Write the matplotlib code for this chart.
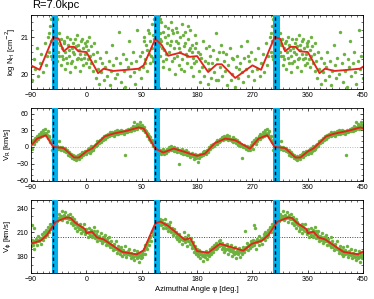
import matplotlib
matplotlib.use("Agg")
import matplotlib.pyplot as plt
from matplotlib.ticker import MultipleLocator
import numpy as np

plt.rcParams['font.family'] = ['Liberation Sans', 'DejaVu Sans']

# spiral arm positions (deg)
arm_phi = [-55, 112, 306]
band_lo = [-56, 110, 304]
band_hi = [-46, 120, 314]

# ---- log N_H panel (one period, 0..360) ----
nh_line_phi = [0, 6, 19, 28, 44, 65, 85, 93, 112, 122, 133, 152, 168, 180, 198, 212, 220,
               242, 255, 270, 284, 306, 315, 323, 332, 340, 347, 360]
nh_line = [20.6, 20.42, 20.03, 20.15, 20.09, 20.12, 20.15, 20.24, 20.95, 20.8, 20.5, 20.58,
           20.47, 20.49, 20.06, 20.27, 20.27, 19.9, 20.06, 20.24, 20.12, 21.0, 20.96, 20.62,
           20.74, 20.74, 20.62, 20.6]
nh_pts = [(1,20.9),(2,20.4),(3,20.65),(4,20.2),(5,21.0),(6,20.5),(7,20.75),(8,20.3),(10,20.55),(11,20.1),
          (12,20.85),(14,20.35),(15,19.9),(17,20.6),(19,20.15),(21,19.75),(22,20.45),(24,20.05),(26,20.3),(28,19.85),
          (30,20.2),(32,20.6),(34,19.95),(36,20.35),(38,19.7),(40,20.1),(42,20.8),(44,20.25),(46,19.9),(48,20.45),
          (50,20.0),(53,21.15),(55,20.3),(57,19.8),(59,20.55),(61,20.1),(63,19.65),(65,20.4),(67,20.2),(69,20.9),
          (71,19.95),(73,20.3),(75,20.6),(77,20.05),(79,19.75),(81,20.35),(83,21.2),(85,20.15),(87,20.5),(89,19.9),
          (91,20.6),(92,20.2),(94,21.0),(95,20.4),(97,20.8),(98,20.1),(100,21.2),(101,20.55),(103,20.9),(104,20.3),
          (106,21.35),(107,20.7),(108,21.05),(109,20.45),(110,21.5),(111,20.85),(112,21.2),(113,20.6),(114,21.45),(115,20.95),
          (116,20.3),(117,21.3),(118,20.75),(119,21.1),(120,20.5),(121,21.4),(122,20.9),(124,20.2),(125,21.15),(126,20.65),
          (128,21.3),(129,20.4),(131,20.85),(132,21.05),(134,20.15),(135,20.6),(137,21.4),(138,20.9),(140,20.35),(141,21.1),
          (143,20.7),(144,20.0),(146,21.25),(147,20.5),(149,20.85),(150,20.25),(152,21.0),(153,20.6),(155,21.35),(156,20.4),
          (158,20.75),(159,20.1),(161,21.15),(162,20.55),(164,20.3),(165,20.95),(167,20.65),(168,21.2),(170,20.2),(171,20.8),
          (173,20.45),(174,19.95),(176,20.7),(177,21.05),(179,20.35),
          (181,20.6),(183,20.1),(185,19.8),(186,20.45),(188,20.2),(190,20.9),(192,19.95),(193,20.35),(195,20.7),(197,19.75),
          (199,20.15),(201,20.5),(203,19.9),(205,20.3),(206,20.65),(208,20.05),(210,21.1),(212,20.4),(214,19.85),(215,20.6),
          (217,20.2),(219,20.8),(221,19.95),(223,20.35),(225,20.1),(227,20.55),(229,19.7),(231,20.25),(233,20.7),(235,19.85),
          (237,20.0),(239,20.4),(241,19.65),(243,20.2),(245,20.5),(247,19.9),(249,20.3),(251,20.75),(253,20.05),(255,19.8),
          (257,20.45),(259,20.15),(261,20.9),(263,19.95),(265,20.35),(267,20.6),(269,20.1),
          (272,19.85),(274,20.4),(277,20.15),(279,20.7),(282,19.95),(284,20.3),(287,20.55),(289,20.05),(292,20.85),(294,20.25),
          (296,20.5),(298,21.0),
          (300,20.6),(301,21.3),(302,20.9),(303,21.5),(304,20.4),(305,21.15),(306,21.55),(307,20.75),(308,21.4),(309,20.55),
          (310,21.05),(311,21.25),(312,20.35),(313,20.85),(315,21.1),(316,20.5),(318,20.95),(319,20.25),
          (321,20.7),(322,20.4),(324,20.9),(325,20.15),(326,20.6),(328,21.0),(329,20.3),(330,20.8),(332,20.5),(333,20.05),
          (334,20.95),(336,20.7),(337,20.35),(339,20.85),(340,20.55),(342,20.2),(343,20.75),(345,21.05),(346,20.45),(348,20.65),
          (349,20.1),(351,20.9),(352,20.4),(354,20.7),(355,20.25),(357,20.55),(358,20.85),(359,20.3),
          (93,20.9),(96,20.3),(99,20.65),(102,21.1),(105,20.5),(108,20.35),(110,20.95),(111,21.6),(113,21.35),(115,20.45),
          (117,20.6),(119,21.5),(120,20.95),(123,20.7),(125,20.35),(127,21.0),(130,20.55),(133,21.25),(136,20.8),(139,21.2),
          (142,20.45),(145,20.9),(148,21.15),(151,20.7),(154,20.15),(157,21.05),(160,20.85),(163,20.5),(166,21.3),(169,20.7),
          (172,20.6),(175,20.3),(178,20.85),(300,21.1),(302,20.5),(304,21.6),(305,20.8),(307,21.2),(308,20.95),(310,20.7),
          (312,21.5),(314,20.6),(317,20.8),(320,20.5),(323,20.85),(327,20.45),(331,20.65),(335,20.3),(338,20.6),(341,20.95),
          (344,20.4),(347,20.8),(350,20.55),(353,20.95),(356,20.45),(359,20.75),(185,20.55),(200,20.75),(222,20.6),(236,20.45),
          (248,20.15),(262,20.5),(197,20.3),(211,19.85)]

# ---- V_R panel ----
vr_line_phi = [0, 9, 30, 44, 66, 85, 93, 112, 125, 142, 160, 168, 180, 193, 209, 226, 242,
               266, 280, 294, 306, 323, 340, 348, 360]
vr_line = [-8, -3, 19, 24, 29, 35, 33, -3, -10, -3, -9, -12, -16, -12, 7, 15, 12,
           -3, 15, 21, 0, -2, -19, -19, -8]
vr_pts = [(0,-12),(2,-6),(4,-10),(5,-2),(7,-7),(8,1),(10,-5),(12,2),(13,-1),(15,6),(17,3),(18,10),(20,7),(22,13),
          (23,9),(25,16),(27,12),(28,20),(30,15),(32,22),(33,18),(35,24),(37,19),(38,26),(40,21),(42,27),(43,22),(45,20),
          (47,28),(49,24),(50,30),(52,23),(54,27),(56,31),(57,25),(59,29),(61,24),(62,-14),(64,30),(66,26),(68,32),(70,28),
          (72,34),(73,29),(75,37),(77,31),(78,45),(80,36),(82,41),(83,33),(85,38),(87,44),(88,34),(90,40),(92,30),(94,35),
          (95,26),(97,29),(99,20),(100,24),(102,14),(103,18),(105,8),(107,12),(108,2),(110,6),(111,-4),(113,0),(114,-7),
          (116,-2),(118,-10),(119,-5),(121,-13),(123,-8),(124,-4),(126,-12),(128,-7),(130,-11),(131,-3),(133,-8),(135,-1),
          (137,-6),(138,2),(140,-3),(142,-7),(143,0),(145,-5),(147,-9),(148,-2),(150,-30),(152,-6),(154,-11),(155,-4),
          (157,-13),(159,-8),(161,-12),(162,-6),(164,-15),(166,-9),(167,-14),(169,-18),(171,-11),(173,-16),(175,-21),
          (176,-13),(178,-19),(180,-14),(182,-27),(183,-20),(185,-12),(187,-17),(189,-9),(190,-14),(192,-8),(194,-13),
          (196,-5),(198,-9),(199,-1),(201,-4),(203,3),(205,-1),(206,6),(208,2),(210,9),(212,5),(213,12),(215,8),(217,15),
          (218,11),(220,18),(222,12),(224,20),(225,14),(227,17),(229,22),(231,13),(232,19),(234,15),(236,11),(238,17),
          (239,9),(241,14),(243,7),(245,12),(246,4),(248,9),(250,2),(252,6),(253,-20),(255,0),(257,4),(259,-4),(261,1),
          (263,-6),(264,-1),(266,-5),(268,3),(270,8),(271,-3),(273,12),(275,6),(276,16),(278,10),(280,20),(282,14),
          (283,24),(285,17),(287,27),(288,19),(290,30),(292,22),(293,33),(295,25),(297,28),(298,16),(300,20),(301,8),
          (303,12),(304,-5),(305,3),(306,-10),(307,5),(308,-4),(310,1),(311,-6),(313,2),(314,-3),(316,10),(317,-1),
          (319,-6),(320,0),(322,-4),(324,-8),(325,-2),(327,-10),(329,-6),(330,-14),(332,-9),(333,-17),(335,-12),
          (337,-20),(338,-15),(340,-22),(342,-17),(343,-24),(345,-19),(347,-15),(348,-22),(350,-13),(352,-18),
          (353,-10),(355,-15),(357,-7),(358,-11),
          (1,-9),(3,-4),(6,-11),(9,-1),(11,-3),(14,4),(16,1),(19,8),(21,11),(24,13),(26,14),(29,17),(31,18),(34,21),
          (36,22),(39,23),(41,24),(44,25),(46,24),(48,26),(51,27),(53,29),(55,25),(58,28),(60,27),(63,27),(65,29),(67,28),
          (69,30),(71,31),(74,32),(76,34),(79,33),(81,37),(84,36),(86,40),(89,37),(91,35),(93,32),(96,31),(98,25),(101,19),
          (104,13),(106,9),(109,4),(112,-2),(115,-4),(117,-6),(120,-8),(122,-10),(125,-9),(127,-9),(129,-8),(132,-6),
          (134,-4),(136,-4),(139,-2),(141,-5),(144,-4),(146,-7),(149,-6),(151,-8),(153,-9),(156,-8),(158,-10),(160,-11),
          (163,-10),(165,-12),(168,-12),(170,-14),(172,-15),(174,-14),(177,-16),(179,-17),(181,-15),(184,-15),(186,-14),
          (188,-13),(191,-11),(193,-11),(195,-8),(197,-7),(200,-2),(202,0),(204,2),(207,4),(209,6),(211,8),(214,10),
          (216,11),(219,14),(221,15),(223,16),(226,16),(228,14),(230,16),(233,15),(235,13),(237,14),(240,12),(242,10),
          (244,9),(247,7),(249,5),(251,3),(254,2),(256,0),(258,-1),(260,-2),(262,-3),(265,-2),(267,0),(269,4),(272,7),
          (274,9),(277,13),(279,15),(281,17),(284,19),(286,21),(289,23),(291,25),(294,24),(296,22),(299,18),(302,10),
          (309,-1),(312,-2),(315,-4),(318,-2),(321,-3),(323,-6),(326,-6),(328,-8),(331,-11),(334,-13),(336,-16),(339,-18),
          (341,-19),(344,-20),(346,-18),(349,-17),(351,-16),(354,-12),(356,-10),(359,-8)]

# ---- V_phi panel ----
vp_line_phi = [0, 9, 17, 28, 58, 82, 93, 112, 120, 133, 160, 169, 180, 198, 217, 255, 269,
               286, 296, 310, 328, 334, 342, 358, 360]
vp_line = [209, 211, 204, 201.5, 186, 183, 188, 221, 223.5, 218, 201, 203, 187, 185, 196, 187.5,
           196, 200, 207, 223, 228.5, 228, 222, 214, 209]
vp_pts = [(0,214),(2,205),(3,211),(5,216),(6,207),(8,213),(9,204),(11,210),(12,217),(14,203),(15,208),(17,212),
          (18,199),(20,206),(22,201),(23,209),(25,197),(27,204),(28,200),(30,207),(32,195),(33,202),(35,198),(37,205),
          (38,192),(40,199),(42,195),(43,188),(45,196),(47,190),(48,199),(50,185),(52,193),(53,189),(55,184),(57,192),
          (58,181),(60,188),(62,185),(63,193),(65,180),(67,187),(68,183),(70,190),(72,178),(73,185),(75,181),(77,188),
          (78,176),(80,184),(82,179),(83,187),(85,174),(86,182),(88,178),(90,186),(91,180),(93,190),(95,184),(96,195),
          (98,189),(100,200),(101,195),(103,206),(105,200),(106,212),(108,207),(110,217),(111,212),(113,224),(115,218),
          (116,228),(118,221),(120,227),(121,219),(123,225),(125,216),(126,222),(128,226),(130,215),(131,221),(133,212),
          (135,219),(136,223),(138,210),(140,216),(141,207),(143,214),(145,205),(146,211),(148,202),(150,208),(151,199),
          (153,205),(155,196),(156,203),(158,210),(160,198),(161,205),(163,193),(165,200),(166,207),(168,196),(170,203),
          (171,191),(173,198),(175,186),(176,193),(178,183),(180,190),(181,181),(183,188),(185,179),(186,186),(188,182),
          (190,175),(191,184),(193,180),(195,187),(196,177),(198,185),(200,181),(201,189),(203,183),(205,192),(206,186),
          (208,195),(210,189),(211,197),(213,191),(215,199),(216,193),(218,201),(220,190),(221,197),(223,186),(225,194),
          (226,188),(228,196),(230,183),(231,191),(233,187),(235,194),(236,181),(238,189),(240,184),(241,192),(243,179),
          (245,187),(246,183),(248,191),(250,180),(251,188),(253,184),(255,192),(256,186),(258,212),(260,190),(261,197),
          (263,188),(265,195),(266,191),(268,199),(270,193),(271,201),(272,219),(273,195),(274,216),(275,190),(276,198),
          (278,202),(280,194),(281,206),(283,199),(285,203),(286,196),(288,208),(290,201),(291,210),(293,204),(295,213),
          (296,207),(298,217),(300,211),(301,220),(303,214),(305,224),(306,218),(308,227),(310,221),(311,230),(313,224),
          (315,233),(316,226),(318,230),(320,236),(321,225),(323,232),(325,228),(326,235),(328,223),(330,231),(331,226),
          (333,233),(335,222),(336,229),(338,219),(340,226),(341,215),(343,223),(345,212),(346,219),(348,214),(350,221),
          (351,209),(353,217),(355,212),(356,220),(358,208),
          (1,210),(4,209),(7,211),(10,207),(13,212),(16,206),(19,203),(21,204),(24,202),(26,200),(29,203),(31,199),
          (34,197),(36,195),(39,196),(41,192),(44,193),(46,191),(49,190),(51,188),(54,187),(56,188),(59,186),(61,184),
          (64,186),(66,183),(69,184),(71,182),(74,183),(76,180),(79,182),(81,181),(84,180),(87,184),(89,182),(92,184),
          (94,188),(97,192),(99,196),(102,201),(104,204),(107,210),(109,213),(112,218),(114,221),(117,223),(119,224),
          (122,222),(124,220),(127,219),(129,220),(132,217),(134,215),(137,213),(139,214),(142,211),(144,209),(147,207),
          (149,205),(152,203),(154,202),(157,201),(159,203),(162,201),(164,202),(167,200),(169,199),(172,195),(174,192),
          (177,189),(179,187),(182,185),(184,184),(187,183),(189,181),(192,182),(194,183),(197,182),(199,184),(202,186),
          (204,188),(207,190),(209,192),(212,194),(214,195),(217,196),(219,194),(222,192),(224,191),(227,190),(229,189),
          (232,188),(234,189),(237,187),(239,186),(242,186),(244,185),(247,186),(249,187),(252,186),(254,188),(257,190),
          (259,192),(262,193),(264,194),(267,196),(269,197),(272,197),(275,199),(277,198),(279,200),(282,201),(284,202),
          (287,203),(289,205),(292,207),(294,209),(297,212),(299,215),(302,217),(304,220),(307,222),(309,224),(312,226),
          (314,228),(317,229),(319,229),(322,230),(324,229),(327,229),(329,228),(332,228),(334,227),(337,225),(339,223),
          (342,221),(344,219),(347,217),(349,216),(352,214),(354,213),(357,212),(359,211)]

panels = [
    (nh_pts, nh_line_phi, nh_line, 'log N$_\\mathrm{H}$ [cm$^{-2}$]', (19.6, 21.6), [20, 21], 0.2, None),
    (vr_pts, vr_line_phi, vr_line, 'V$_\\mathrm{R}$ [km/s]', (-61, 70), [-60, -30, 0, 30, 60], 10, (0, '#bbbbbb')),
    (vp_pts, vp_line_phi, vp_line, 'V$_\\mathrm{\\phi}$ [km/s]', (160, 250), [180, 210, 240], 10, (205, '#444444')),
]

fig = plt.figure(figsize=(3.74, 2.99), dpi=100)
boxes = [(0.950, 0.702), (0.639, 0.395), (0.331, 0.087)]
green = '#6cb23e'
shifts = [-360, 0, 360]

for (pts, lphi, lval, ylab, ylim, yt, ymin, hline), (top, bot) in zip(panels, boxes):
    ax = fig.add_axes([0.083, bot, 0.888, top - bot])
    p = np.array(pts, dtype=float)
    for s in shifts:
        ax.scatter(p[:, 0] + s, p[:, 1], s=6, color=green, linewidths=0, zorder=2)
    lp = np.concatenate([np.array(lphi) + s for s in shifts])
    lv = np.concatenate([lval for s in shifts])
    ax.plot(lp, lv, color='#e1261c', lw=1.35, zorder=4)
    if hline is not None:
        ax.axhline(hline[0], color=hline[1], ls=(0, (1, 1.5)), lw=0.7, zorder=1)
    for lo, hi, a in zip(band_lo, band_hi, arm_phi):
        ax.axvspan(lo, hi, color='#00b2ee', lw=0, zorder=3)
        ax.axvline(a, color='black', ls=(0, (2.5, 2)), lw=1.0, zorder=5)
    ax.set_xlim(-90, 450)
    ax.set_ylim(*ylim)
    ax.set_xticks([-90, 0, 90, 180, 270, 360, 450])
    ax.xaxis.set_minor_locator(MultipleLocator(10))
    ax.set_yticks(yt)
    ax.yaxis.set_minor_locator(MultipleLocator(ymin))
    ax.tick_params(which='both', direction='in', top=True, right=True, labelsize=5, pad=2)
    ax.tick_params(which='major', length=2.5, width=0.5)
    ax.tick_params(which='minor', length=1.2, width=0.4)
    for sp in ax.spines.values():
        sp.set_linewidth(0.6)
    ax.set_ylabel(ylab, fontsize=5.5, labelpad=2)
    if ylab.startswith('V$_\\mathrm{\\phi}'):
        ax.set_xlabel('Azimuthal Angle φ [deg.]', fontsize=5.5, labelpad=2)

fig.text(0.085, 0.965, 'R=7.0kpc', fontsize=8, ha='left', va='bottom')
fig.savefig('out.png', dpi=100)
